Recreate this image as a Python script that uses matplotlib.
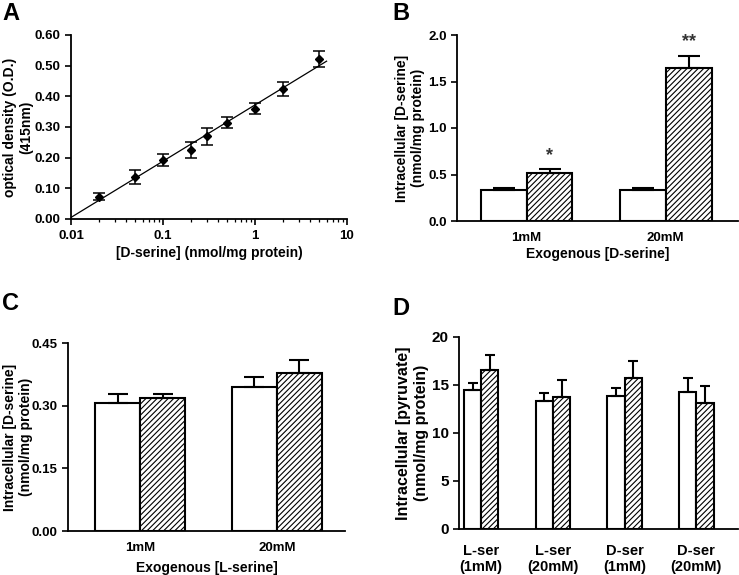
import numpy as np
from matplotlib import pyplot as plt

plt.rcParams['font.family'] = ['Liberation Sans', 'DejaVu Sans']
plt.rcParams['font.weight'] = 'bold'
plt.rcParams['axes.labelweight'] = 'bold'
plt.rcParams['font.size'] = 9.5
plt.rcParams['hatch.linewidth'] = 0.8

# panel A: standard curve
a_conc = [0.02, 0.05, 0.1, 0.2, 0.3, 0.5, 1, 2, 5]
a_od = [0.073, 0.138, 0.192, 0.225, 0.270, 0.314, 0.360, 0.425, 0.521]
a_err = [0.011, 0.023, 0.020, 0.026, 0.028, 0.017, 0.019, 0.023, 0.026]

# panel B: exogenous D-serine
b_groups = ['1mM', '20mM']
b_ctrl = [0.333, 0.333]
b_ctrl_err = [0.027, 0.027]
b_treat = [0.513, 1.642]
b_treat_err = [0.043, 0.132]
b_stars = ['*', '**']

# panel C: exogenous L-serine
c_groups = ['1mM', '20mM']
c_ctrl = [0.306, 0.345]
c_ctrl_err = [0.023, 0.023]
c_treat = [0.318, 0.378]
c_treat_err = [0.011, 0.032]

# panel D: pyruvate
d_groups = ['L-ser\n(1mM)', 'L-ser\n(20mM)', 'D-ser\n(1mM)', 'D-ser\n(20mM)']
d_ctrl = [14.46, 13.36, 13.84, 14.29]
d_ctrl_err = [0.74, 0.76, 0.86, 1.45]
d_treat = [16.54, 13.77, 15.74, 13.15]
d_treat_err = [1.56, 1.80, 1.73, 1.76]

W, H = 739, 575
fig = plt.figure(figsize=(W / 100, H / 100), dpi=100)


def make_ax(l, r, t, b):
    ax = fig.add_axes([l / W, 1 - b / H, (r - l) / W, (b - t) / H])
    ax.spines['top'].set_visible(False)
    ax.spines['right'].set_visible(False)
    ax.spines['left'].set_linewidth(1.3)
    ax.spines['bottom'].set_linewidth(1.3)
    ax.tick_params(width=1.2, length=4, direction='out')
    return ax


def bars(ax, ctrl, ctrl_err, treat, treat_err, width, cap):
    x = np.arange(len(ctrl))
    ax.bar(x - width / 2, ctrl, width, color='white', edgecolor='black', linewidth=1.5,
           yerr=[np.zeros(len(ctrl)), ctrl_err], capsize=cap,
           error_kw=dict(elinewidth=1.5, capthick=1.5), zorder=2)
    ax.bar(x + width / 2, treat, width, color='white', edgecolor='black', linewidth=1.5,
           hatch='//////', yerr=[np.zeros(len(treat)), treat_err], capsize=cap,
           error_kw=dict(elinewidth=1.5, capthick=1.5), zorder=2)
    ax.tick_params(axis='x', length=0, pad=8)
    return x


# A
ax = make_ax(71, 347, 35, 219)
ax.set_xscale('log')
ax.errorbar(a_conc, a_od, yerr=a_err, fmt='D', color='black', markersize=4.5,
            capsize=4, elinewidth=1.1, capthick=1.1)
k, c0 = np.polyfit(np.log10(a_conc), a_od, 1)
xf = np.logspace(-2, np.log10(6), 50)
ax.plot(xf, k * np.log10(xf) + c0, color='black', linewidth=0.9)
ax.set_xlim(0.01, 10)
ax.set_ylim(0, 0.6)
ax.set_yticks(np.arange(0, 0.61, 0.1))
ax.set_yticklabels(['%.2f' % v for v in np.arange(0, 0.61, 0.1)])
ax.set_xticks([0.01, 0.1, 1, 10])
ax.set_xticklabels(['0.01', '0.1', '1', '10'])
ax.tick_params(axis='x', which='minor', length=2.5, width=0.9)
ax.tick_params(axis='x', which='major', pad=4)
ax.set_xlabel('[D-serine] (nmol/mg protein)', fontsize=10, labelpad=3)
ax.set_ylabel('optical density (O.D.)\n(415nm)', fontsize=10)
ax.yaxis.set_label_coords(-0.138, 0.5)

# B
ax = make_ax(457, 738, 35, 221)
x = bars(ax, b_ctrl, b_ctrl_err, b_treat, b_treat_err, 0.33, 8)
for i in range(len(x)):
    ax.text(x[i] + 0.165, b_treat[i] + b_treat_err[i] + 0.15, b_stars[i],
            ha='center', va='center', fontsize=13, color='#333333')
ax.set_xlim(-0.5, 1.52)
ax.set_ylim(0, 2.0)
ax.set_yticks([0, 0.5, 1.0, 1.5, 2.0])
ax.set_yticklabels(['0.0', '0.5', '1.0', '1.5', '2.0'])
ax.set_xticks(x)
ax.set_xticklabels(b_groups)
ax.set_xlabel('Exogenous [D-serine]', fontsize=10, labelpad=2)
ax.set_ylabel('Intracellular [D-serine]\n(nmol/mg protein)', fontsize=10)
ax.yaxis.set_label_coords(-0.114, 0.5)

# C
ax = make_ax(68, 345, 343, 531)
x = bars(ax, c_ctrl, c_ctrl_err, c_treat, c_treat_err, 0.33, 7)
ax.set_xlim(-0.53, 1.5)
ax.set_ylim(0, 0.45)
ax.set_yticks([0, 0.15, 0.30, 0.45])
ax.set_yticklabels(['0.00', '0.15', '0.30', '0.45'])
ax.set_xticks(x)
ax.set_xticklabels(c_groups)
ax.set_xlabel('Exogenous [L-serine]', fontsize=10, labelpad=5)
ax.set_ylabel('Intracellular [D-serine]\n(nmol/mg protein)', fontsize=10)
ax.yaxis.set_label_coords(-0.126, 0.5)

# D
ax = make_ax(459, 738, 337, 529)
x = bars(ax, d_ctrl, d_ctrl_err, d_treat, d_treat_err, 0.24, 3.6)
ax.set_xlim(-0.31, 3.58)
ax.set_ylim(0, 20)
ax.set_yticks([0, 5, 10, 15, 20])
ax.tick_params(axis='y', labelsize=11)
ax.set_xticks(x)
ax.set_xticklabels(d_groups, fontsize=10.5, linespacing=1.15)
ax.tick_params(axis='x', pad=11)
ax.set_ylabel('Intracellular [pyruvate]\n(nmol/mg protein)', fontsize=11.5)
ax.yaxis.set_label_coords(-0.108, 0.5)

for lbl, px, py in [('A', 2, 2), ('B', 392, 2), ('C', 2, 292), ('D', 392, 297)]:
    fig.text(px / W, 1 - py / H, lbl, fontsize=17, fontweight='bold', va='top', ha='left')

plt.savefig('out.png', dpi=100)
